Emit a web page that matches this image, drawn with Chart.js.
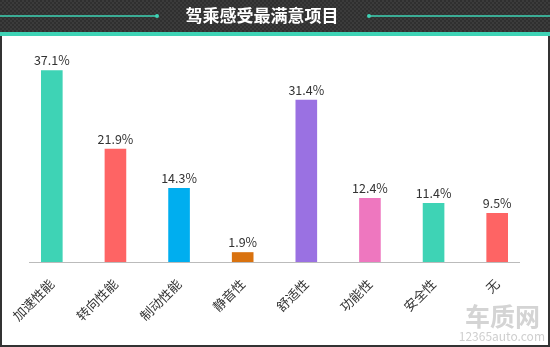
<!DOCTYPE html>
<html>
<head>
<meta charset="utf-8">
<script src="https://cdn.jsdelivr.net/npm/chart.js@4"></script>
<style>
  html, body { margin: 0; padding: 0; background: #fff; }
  #wrap { position: relative; width: 550px; height: 347px; }
</style>
</head>
<body>
<div id="wrap"><canvas id="bar-chart"></canvas></div>
<script>
const title = '驾乘感受最满意项目';
const categories = ['加速性能', '转向性能', '制动性能', '静音性', '舒适性', '功能性', '安全性', '无'];
const values = [37.1, 21.9, 14.3, 1.9, 31.4, 12.4, 11.4, 9.5];
const barColors = ['#3ed3b5', '#fe6464', '#00aeef', '#d9720f', '#9a71e2', '#ee77bf', '#3ed3b5', '#fe6464'];

const teal = '#3ed3b5';
const font = '"Noto Sans CJK SC", "Open Sans", sans-serif';

// small checker tile for the dark title band
function checker() {
  const c = document.createElement('canvas');
  c.width = 4; c.height = 4;
  const g = c.getContext('2d');
  g.fillStyle = '#3b3b3b'; g.fillRect(0, 0, 4, 4);
  g.fillStyle = '#2f2f2f'; g.fillRect(0, 0, 2, 2); g.fillRect(2, 2, 2, 2);
  return c;
}

const framePlugin = {
  id: 'frame',
  beforeDraw(chart) {
    const ctx = chart.ctx;
    const w = chart.width, h = chart.height;
    ctx.save();
    ctx.fillStyle = '#fff';
    ctx.fillRect(0, 0, w, h);
    // title band
    ctx.fillStyle = ctx.createPattern(checker(), 'repeat');
    ctx.fillRect(0, 0, w, 32);
    ctx.fillStyle = teal;
    ctx.fillRect(0, 32, w, 4);
    // side lines with dots
    ctx.strokeStyle = teal;
    ctx.lineWidth = 1.5;
    ctx.beginPath();
    ctx.moveTo(0, 16); ctx.lineTo(157, 16);
    ctx.moveTo(369, 16); ctx.lineTo(w, 16);
    ctx.stroke();
    ctx.fillStyle = teal;
    ctx.beginPath(); ctx.arc(157, 16, 2, 0, Math.PI * 2); ctx.fill();
    ctx.beginPath(); ctx.arc(369, 16, 2, 0, Math.PI * 2); ctx.fill();
    ctx.fillStyle = '#fff';
    ctx.font = 'bold 17px ' + font;
    ctx.textAlign = 'center';
    ctx.textBaseline = 'middle';
    ctx.fillText(title, 262, 16);
    // outer frame
    ctx.fillStyle = '#333';
    ctx.fillRect(0, 36, 2, h - 36);
    ctx.fillRect(w - 2, 36, 2, h - 36);
    ctx.fillRect(0, h - 2, w, 2);
    ctx.restore();
  },
  afterDraw(chart) {
    const ctx = chart.ctx;
    const x = chart.scales.x, y = chart.scales.y;
    ctx.save();
    // axis line
    ctx.strokeStyle = '#bbb';
    ctx.lineWidth = 1;
    ctx.beginPath();
    ctx.moveTo(29, Math.round(y.getPixelForValue(0)) + 0.5);
    ctx.lineTo(520, Math.round(y.getPixelForValue(0)) + 0.5);
    ctx.stroke();
    // value labels
    ctx.fillStyle = '#333';
    ctx.font = '12.5px ' + font;
    ctx.textAlign = 'center';
    ctx.textBaseline = 'alphabetic';
    values.forEach((v, i) => {
      ctx.fillText(v.toFixed(1) + '%', x.getPixelForValue(i), y.getPixelForValue(v) - 5);
    });
    // watermark
    ctx.fillStyle = '#d4d4d4';
    ctx.textAlign = 'right';
    ctx.font = 'bold 25px ' + font;
    ctx.fillText('车质网', 540, 326);
    ctx.fillStyle = '#cfcfcf';
    ctx.font = '12px ' + font;
    ctx.fillText('12365auto.com', 545, 341);
    ctx.restore();
  }
};

new Chart(document.getElementById('bar-chart'), {
  type: 'bar',
  data: {
    labels: categories,
    datasets: [{
      data: values,
      backgroundColor: barColors,
      borderWidth: 0,
      barPercentage: 0.34,
      categoryPercentage: 1
    }]
  },
  options: {
    responsive: true,
    maintainAspectRatio: false,
    animation: false,
    layout: { padding: { left: 20, right: 21, top: 45, bottom: 0 } },
    scales: {
      x: {
        grid: { display: false },
        border: { display: false },
        ticks: {
          autoSkip: false,
          maxRotation: 45,
          minRotation: 45,
          padding: 6,
          color: '#333',
          font: { family: font, size: 13 }
        },
        afterFit(scale) { scale.height = 85; }
      },
      y: {
        display: false,
        min: 0,
        max: 42
      }
    },
    plugins: {
      legend: { display: false },
      tooltip: { enabled: false }
    }
  },
  plugins: [framePlugin]
});
</script>
</body>
</html>
